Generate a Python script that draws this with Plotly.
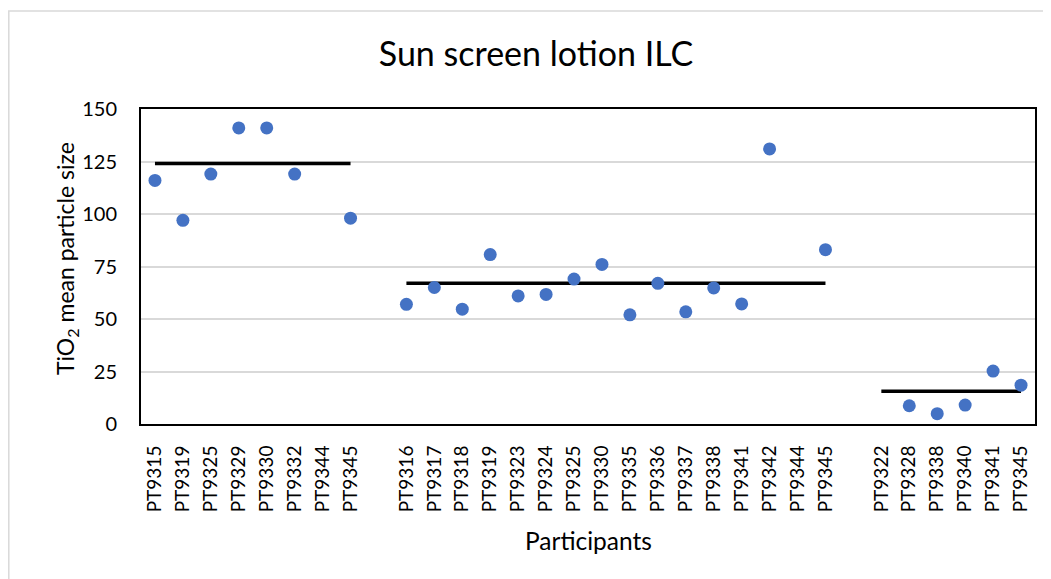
import plotly.graph_objects as go

# ---- data ----
group1_labels = ["PT9315", "PT9319", "PT9325", "PT9329", "PT9330", "PT9332", "PT9344", "PT9345"]
group1_values = [116, 97, 119, 141, 141, 119, None, 98]
group1_mean = 124

group2_labels = ["PT9316", "PT9317", "PT9318", "PT9319", "PT9323", "PT9324", "PT9325", "PT9330",
                 "PT9335", "PT9336", "PT9337", "PT9338", "PT9341", "PT9342", "PT9344", "PT9345"]
group2_values = [57, 65, 54.7, 80.7, 61, 61.7, 69, 76, 52, 67, 53.4, 64.8, 57.2, 131, None, 83]
group2_mean = 67

group3_labels = ["PT9322", "PT9328", "PT9338", "PT9340", "PT9341", "PT9345"]
group3_values = [None, 8.7, 4.9, 9.0, 25.2, 18.5]
group3_mean = 15.6

y_ticks = [0, 25, 50, 75, 100, 125, 150]

groups = [(group1_labels, group1_values, group1_mean),
          (group2_labels, group2_values, group2_mean),
          (group3_labels, group3_values, group3_mean)]

# build category positions with a blank slot between groups
tick_pos, tick_text = [], []
pts_x, pts_y = [], []
mean_traces = []
pos = 0
for gi, (labels, values, mean) in enumerate(groups):
    start = pos
    for lab, val in zip(labels, values):
        tick_pos.append(pos)
        tick_text.append(lab)
        if val is not None:
            pts_x.append(pos)
            pts_y.append(val)
        pos += 1
    end = pos - 1
    mean_traces.append(([start, end], [mean, mean]))
    if gi < len(groups) - 1:
        pos += 1  # gap slot
n_slots = pos

FONT = "Lato"
fig = go.Figure()
for mx, my in mean_traces:
    fig.add_trace(go.Scatter(x=mx, y=my, mode="lines",
                             line=dict(color="black", width=3.5), showlegend=False,
                             hoverinfo="skip"))
fig.add_trace(go.Scatter(x=pts_x, y=pts_y, mode="markers",
                         marker=dict(color="#4472C4", size=13), showlegend=False))

OFF = 8  # page body margin
W, H = 1051 - OFF, 579 - OFF
L, T = 141 - OFF, 109 - OFF
R = W - (1035 - OFF)
B = H - (424 - OFF)
pw, ph = W - L - R, H - T - B

def px_x(x):  # page pixel -> paper x
    return (x - OFF - L) / pw

def px_y(y):  # page pixel -> paper y
    return (H - B - (y - OFF)) / ph

fig.update_layout(
    width=W, height=H,
    margin=dict(l=L, r=R, t=T, b=B, autoexpand=False),
    paper_bgcolor="white", plot_bgcolor="white",
    font=dict(family=FONT, color="black"),
    title=dict(text="Sun screen lotion ILC", x=(536 - OFF) / W, xref="container", xanchor="center",
               y=1 - (54 - OFF) / H, yref="container", yanchor="middle",
               font=dict(size=34, family=FONT, color="black")),
    xaxis=dict(range=[-0.5, n_slots - 0.5], tickmode="array", tickvals=tick_pos, ticktext=tick_text,
               tickangle=-90, tickfont=dict(size=19, family=FONT, color="black"),
               showgrid=False, zeroline=False, showline=True, mirror=True,
               linecolor="black", linewidth=2, ticks="", ticklabelstandoff=12, automargin=False),
    yaxis=dict(range=[0, 150], tickmode="array", tickvals=y_ticks,
               tickfont=dict(size=20, family=FONT, color="black"),
               showgrid=True, gridcolor="#d9d9d9", gridwidth=1.5, zeroline=False,
               showline=True, mirror=True, linecolor="black", linewidth=2,
               ticks="", ticklabelstandoff=18, automargin=False),
    annotations=[
        dict(text="TiO<sub>2</sub> mean particle size", textangle=-90, xref="paper", yref="paper",
             x=px_x(66), y=px_y(259), xanchor="center", yanchor="middle",
             showarrow=False, font=dict(size=23, family=FONT, color="black")),
        dict(text="Participants", xref="paper", yref="paper",
             x=0.5, y=px_y(540), xanchor="center", yanchor="middle",
             showarrow=False, font=dict(size=24.5, family=FONT, color="black")),
    ],
    shapes=[dict(type="rect", xref="paper", yref="paper",
                 x0=px_x(8.8), x1=1.2, y0=-0.8, y1=px_y(11),
                 line=dict(color="#d9d9d9", width=1.5), fillcolor="rgba(0,0,0,0)", layer="below")],
)

fig.write_html("out.html")
